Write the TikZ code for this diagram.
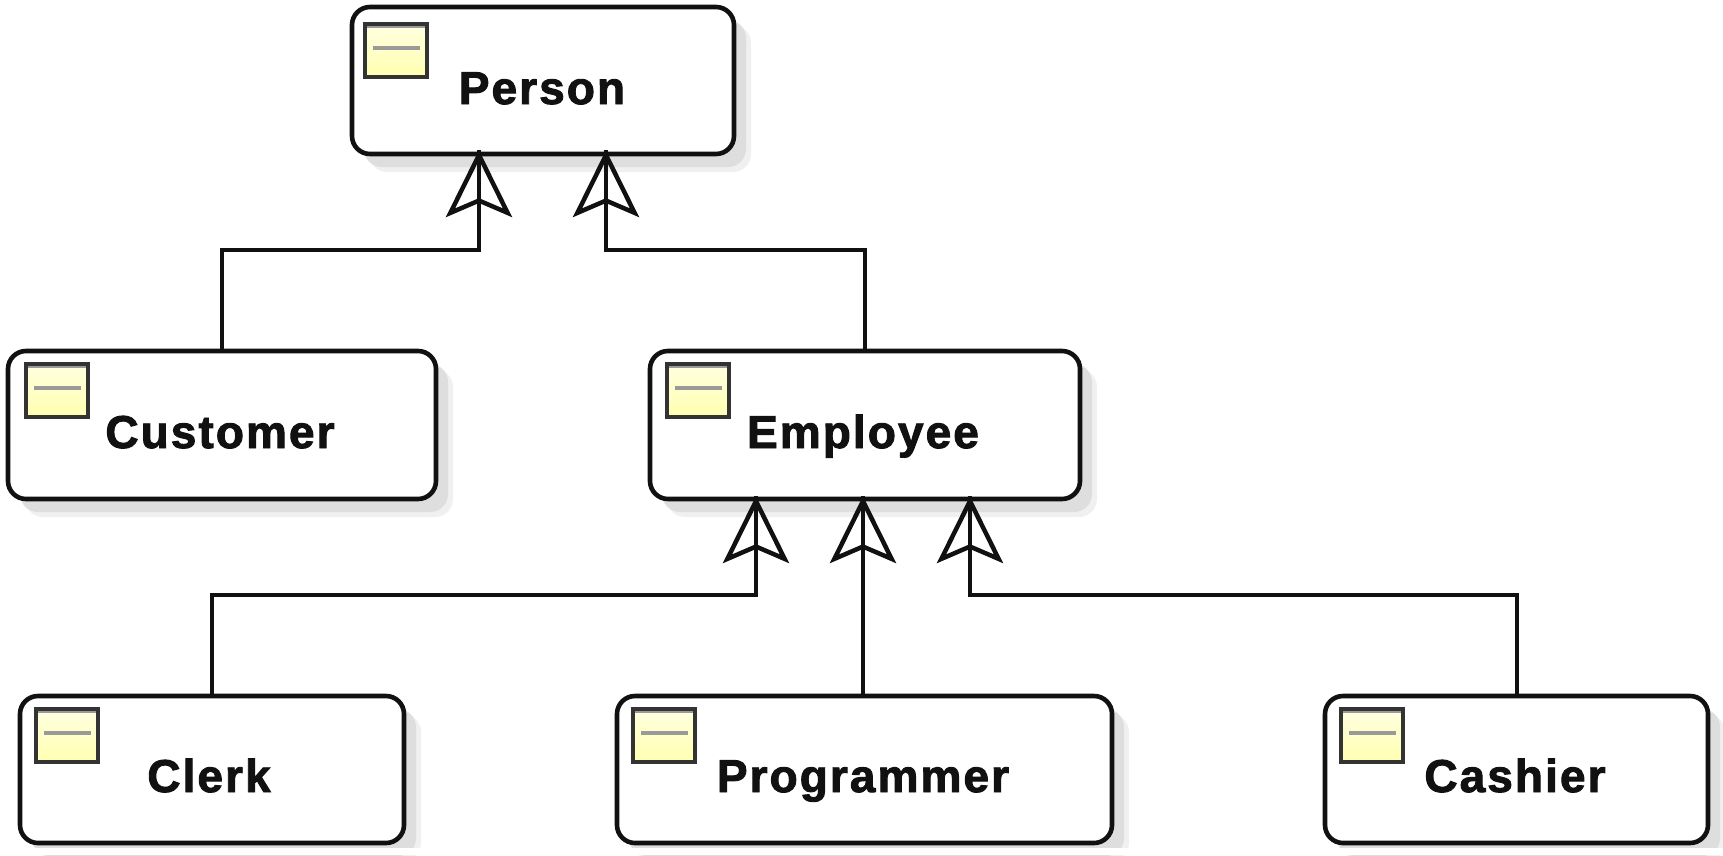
\documentclass[tikz,border=0pt]{standalone}
\usepackage{fontspec}
\setmainfont{Liberation Sans}[LetterSpace=4.5,BoldFeatures={FakeBold=2}]
\usetikzlibrary{arrows.meta,shadows,decorations.markings}
\definecolor{inkc}{HTML}{111111}
\definecolor{iconfill}{HTML}{FFFFB0}
\definecolor{icontop}{HTML}{FFFFE0}
\definecolor{iconedge}{HTML}{333333}
\definecolor{iconbar}{HTML}{9A9A9A}
\definecolor{shadowa}{HTML}{F0F0F0}
\definecolor{shadowb}{HTML}{DEDEDE}
\tikzset{
  classbox/.style={draw=inkc,fill=white,line width=4.6pt,rounded corners=18pt,inner sep=0pt,outer sep=0pt,
    general shadow={shadow xshift=17pt,shadow yshift=-18pt,fill=shadowa},
    general shadow={shadow xshift=12pt,shadow yshift=-13pt,fill=shadowb}},
  classicon/.style={draw=iconedge,top color=icontop,bottom color=iconfill,line width=4pt,minimum width=62pt,minimum height=53pt,inner sep=0pt,outer sep=0pt,anchor=north west},
  iconmark/.style={draw=iconbar,line width=3.4pt},
  classname/.style={font=\bfseries\fontsize{46}{50}\selectfont,text=inkc,anchor=base,inner sep=0pt},
  gen/.style={draw=inkc,line width=4.5pt,line join=miter,postaction={decorate},
    decoration={markings,mark=at position 1 with {\arrow{Stealth[length=67pt,width=66pt,inset=14pt,fill=none,line width=4.5pt,color=inkc]}}}},
}
% name, left, top, right, bottom, icon dx, icon dy, text x, text baseline, text
\newcommand{\umlclass}[9]{%
  \pgfmathsetmacro{\cxx}{(#2+#4)/2}\pgfmathsetmacro{\cyy}{(#3+#5)/2}%
  \pgfmathsetmacro{\wdd}{#4-#2}\pgfmathsetmacro{\htt}{#5-#3}%
  \node[classbox,minimum width=\wdd pt,minimum height=\htt pt] (#1) at (\cxx,\cyy) {};
  \node[classicon] (#1icon) at ([xshift=#6pt,yshift=-#7pt]#1.north west) {};
  \draw[iconmark] ([xshift=8pt,yshift=-24pt]#1icon.north west) -- ([xshift=-7pt,yshift=-24pt]#1icon.north east);
  \draw[draw=iconbar,line width=2.4pt] ([xshift=2pt,yshift=-3pt]#1icon.north west) -- ([xshift=-2pt,yshift=-3pt]#1icon.north east);
  \node[classname] (#1name) at (#8,#9)}
\begin{document}
\begin{tikzpicture}[x=1pt,y=-1pt]
\useasboundingbox (0,0) rectangle (1723,855);
\umlclass{person}{352}{7}{734}{154}{13}{17}{542}{104} {Person};
\umlclass{customer}{8}{351}{436}{499}{18}{13}{220}{448} {Customer};
\umlclass{employee}{650}{351}{1080}{499}{17}{13}{863}{448} {Employee};
\umlclass{clerk}{20}{696}{404}{843}{16}{13}{209}{792} {Clerk};
\umlclass{programmer}{617}{696}{1112}{843}{16}{13}{863}{792} {Programmer};
\umlclass{cashier}{1325}{696}{1708}{843}{16}{13}{1515}{792} {Cashier};
\coordinate (tipA) at (479,150);
\coordinate (tipB) at (606,150);
\coordinate (tipC) at (756,496);
\coordinate (tipD) at (863,496);
\coordinate (tipE) at (970,496);
\coordinate (busP) at (0,250);
\coordinate (busE) at (0,595);
\draw[gen] (customer.north) |- (tipA |- busP) -- (tipA);
\draw[gen] (employee.north) |- (tipB |- busP) -- (tipB);
\draw[gen] (clerk.north -| 212,0) |- (tipC |- busE) -- (tipC);
\draw[gen] (programmer.north -| tipD) -- (tipD);
\draw[gen] (cashier.north -| 1517,0) |- (tipE |- busE) -- (tipE);
\fill[white] (0,847.5) rectangle (1723,855);
\end{tikzpicture}
\end{document}
